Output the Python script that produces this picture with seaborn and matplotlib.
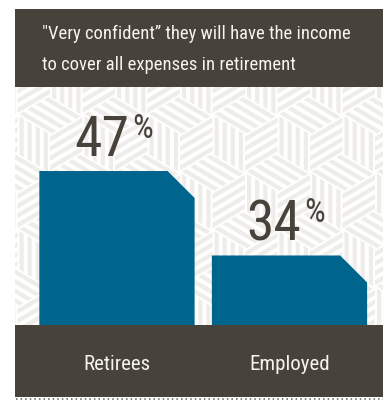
import numpy as np
import matplotlib
matplotlib.use("Agg")
import matplotlib.pyplot as plt
from matplotlib import font_manager as fm
from matplotlib.patches import Rectangle, Polygon
from matplotlib.collections import PolyCollection
from matplotlib.transforms import offset_copy
import seaborn as sns

# ---- data -------------------------------------------------------------
categories = ["Retirees", "Employed"]
values = [47, 34]
title_lines = ["\"Very confident\u201d they will have the income",
               "to cover all expenses in retirement"]

# ---- style ------------------------------------------------------------
DARK = "#47423a"
BLUE = "#00658d"
STRIPE = "#efede9"
LIGHT_TEXT = "#f6f4f0"

sns.set_theme(style="white")
_names = {f.name for f in fm.fontManager.ttflist}
FONT = next((n for n in ["Liberation Sans Narrow", "Roboto Condensed",
                         "Open Sans Condensed", "DejaVu Sans"] if n in _names),
            "DejaVu Sans")
plt.rcParams["font.family"] = [FONT, "DejaVu Sans"]

W_PX, H_PX = 385, 400
fig = plt.figure(figsize=(W_PX / 100, H_PX / 100), dpi=100)
fig.patch.set_facecolor("white")

# panel geometry (pixels, measured from top-left)
PX0, PX1 = 15, 383
HEAD_TOP, HEAD_BOT = 9, 87
FOOT_TOP, FOOT_BOT = 325, 397


def fig_rect(x0, y0, x1, y1):
    return [x0 / W_PX, 1 - y1 / H_PX, (x1 - x0) / W_PX, (y1 - y0) / H_PX]


# ---- patterned backdrop: striped tumbling blocks ------------------------
bg = fig.add_axes(fig_rect(PX0, HEAD_BOT, PX1, FOOT_TOP), zorder=0)
bg.set_xlim(PX0, PX1)
bg.set_ylim(FOOT_TOP, HEAD_BOT)
bg.set_facecolor("white")
bg.axis("off")

Wh, s = 65.0, 38.3
row_h = 1.5 * s
cx0, cy0 = 245.0, 134.4
n_str, frac = 4, 0.52
up = np.array([0.0, -s]); dn = np.array([0.0, s])
ul = np.array([-Wh / 2, -s / 2]); ur = np.array([Wh / 2, -s / 2])
polys = []
for r in range(-3, 6):
    cy = cy0 + r * row_h
    off = Wh / 2 if r % 2 else 0.0
    for k in range(-5, 5):
        c = np.array([cx0 + off + k * Wh, cy])
        for u, v in ((ul, ur), (dn, ul), (ur, dn)):
            for j in range(n_str):
                b0 = (j + (1 - frac) / 2) / n_str
                b1 = b0 + frac / n_str
                polys.append([c + b0 * v, c + b0 * v + u, c + b1 * v + u, c + b1 * v])
bg.add_collection(PolyCollection(polys, facecolors=STRIPE, edgecolors="none"))

# ---- bars -------------------------------------------------------------
ax = fig.add_axes(fig_rect(PX0, HEAD_BOT, PX1, FOOT_TOP), zorder=1)
ax.patch.set_alpha(0)
sns.barplot(x=categories, y=values, ax=ax, width=0.9, color=BLUE,
            saturation=1, edgecolor="none", linewidth=0)
ax.set_xlim(-0.591, 1.542)
ax.set_ylim(23.3, 59.93)
sns.despine(ax=ax, left=True, bottom=True)
ax.set_yticks([])
ax.set_ylabel("")
ax.set_xlabel("")
ax.tick_params(axis="x", length=0, pad=21.8, labelsize=15, labelcolor=LIGHT_TEXT)
for t in ax.get_xticklabels():
    t.set_fontfamily([FONT, "DejaVu Sans"])

# cut the upper-right corner of each bar at 45 degrees
CHAMFER = 27
to_disp = ax.transData
to_data = ax.transData.inverted()
for p in list(ax.patches):
    x0, y0 = p.get_x(), p.get_y()
    x1, y1 = x0 + p.get_width(), y0 + p.get_height()
    (X0, Y0), (X1, Y1) = to_disp.transform([(x0, y0), (x1, y1)])
    verts = to_data.transform([(X0, Y0), (X1, Y0), (X1, Y1 - CHAMFER),
                               (X1 - CHAMFER, Y1), (X0, Y1)])
    ax.add_patch(Polygon(verts, closed=True, facecolor=p.get_facecolor(),
                         edgecolor="none", zorder=2))
    p.remove()

# value labels: large number with a small raised percent sign
for i, v in enumerate(values):
    num_tr = offset_copy(ax.transData, fig=fig, x=12, y=15, units="dots")
    pct_tr = offset_copy(ax.transData, fig=fig, x=15, y=33.5, units="dots")
    ax.text(i, v, f"{v}", transform=num_tr, ha="right", va="baseline",
            fontsize=40, color=DARK, zorder=3)
    ax.text(i, v, "%", transform=pct_tr, ha="left", va="baseline",
            fontsize=23.5, color=DARK, zorder=3)

# ---- header and footer bands ------------------------------------------
ov = fig.add_axes([0, 0, 1, 1], zorder=0.5)
ov.set_xlim(0, W_PX)
ov.set_ylim(H_PX, 0)
ov.patch.set_alpha(0)
ov.axis("off")
ov.add_patch(Rectangle((PX0, HEAD_TOP), PX1 - PX0, HEAD_BOT - HEAD_TOP,
                       facecolor=DARK, edgecolor="none"))
ov.add_patch(Rectangle((PX0, FOOT_TOP), PX1 - PX0, FOOT_BOT - FOOT_TOP,
                       facecolor=DARK, edgecolor="none"))
for line, yb in zip(title_lines, (39, 70)):
    ov.text(42, yb, line, ha="left", va="baseline", fontsize=13.4,
            color=LIGHT_TEXT)
ov.plot([PX0 + 1, PX1], [398.5, 398.5], color="#5e5a52", lw=1.1,
        linestyle=(0, (1, 2)), solid_capstyle="butt")

fig.savefig("out.png", dpi=100)
